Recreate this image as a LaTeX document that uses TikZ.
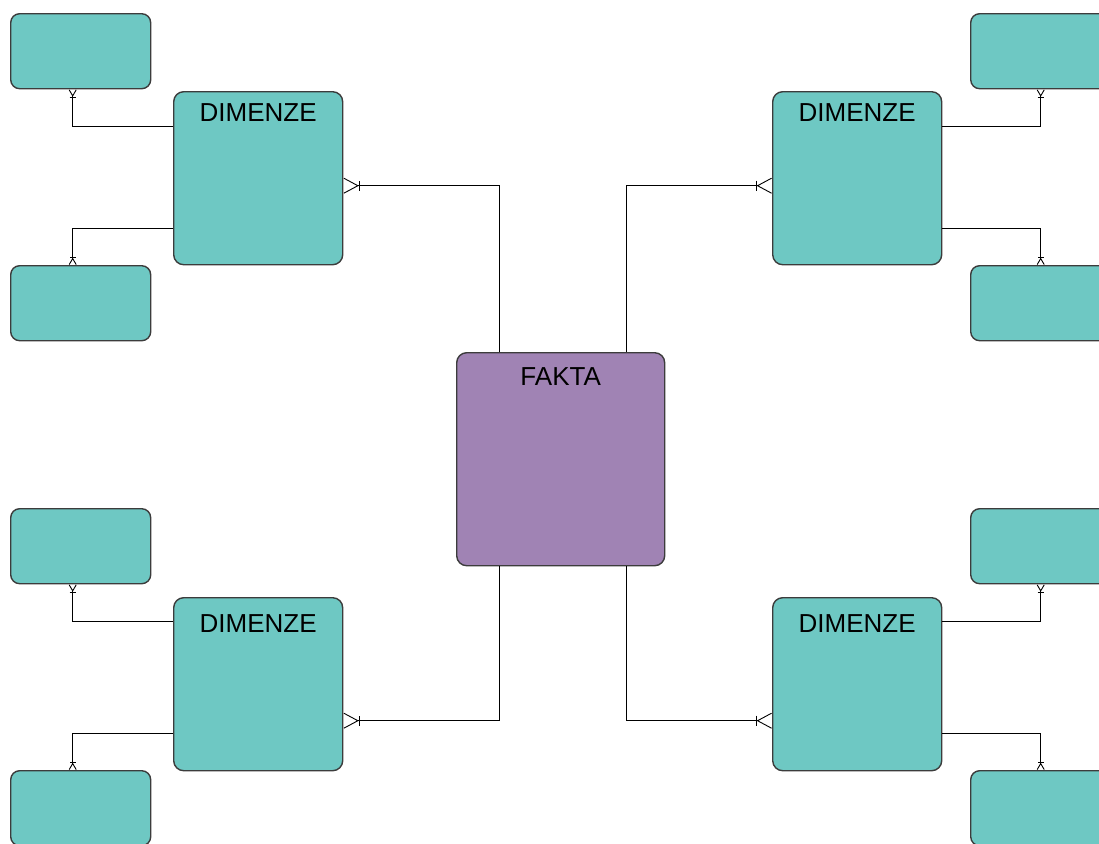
\documentclass[tikz,border=0pt]{standalone}
\usepackage{fontspec}
\setmainfont{Liberation Sans}
\usetikzlibrary{positioning,arrows.meta}

\definecolor{dimfill}{RGB}{110,200,195}
\definecolor{faktfill}{RGB}{160,131,180}
\definecolor{edge}{RGB}{60,60,60}

\begin{document}
\begin{tikzpicture}[
  x=0.5pt, y=-0.5pt,
  dim/.style={draw=edge, fill=dimfill, line width=0.7pt, rounded corners=5pt,
    anchor=north west, minimum width=84.5pt, minimum height=86.5pt, inner sep=0pt},
  attr/.style={draw=edge, fill=dimfill, line width=0.7pt, rounded corners=4.5pt,
    anchor=north west, minimum width=70pt, minimum height=37.5pt, inner sep=0pt},
  fakt/.style={draw=edge, fill=faktfill, line width=0.7pt, rounded corners=5pt,
    anchor=north west, minimum width=104pt, minimum height=106.5pt, inner sep=0pt},
  title/.style={anchor=north, inner sep=0pt, font=\fontsize{13}{15}\selectfont},
  crow/.style={line width=0.45pt,
    -{Bar[width=5pt,sep=0pt]Straight Barb[reversed,length=7pt,width=7.5pt,sep=0pt]}},
  crowsmall/.style={line width=0.45pt,
    -{Bar[width=3pt,sep=0pt]Straight Barb[reversed,length=3pt,width=3.5pt,sep=0pt]}}
]
\useasboundingbox (0,0) rectangle (1099,843);
\clip (0,0) rectangle (1099,843);

% fact table
\node[fakt] (fakta) at (456,352) {};
\node[title] (faktat) at ([yshift=-7.5pt]fakta.north) {FAKTA};

% dimensions
\node[dim] (dimtl) at (173,91) {};
\node[dim] (dimtr) at (772,91) {};
\node[dim] (dimbl) at (173,597) {};
\node[dim] (dimbr) at (772,597) {};
\node[title] (dimtlt) at ([yshift=-6pt]dimtl.north) {DIMENZE};
\node[title] (dimtrt) at ([yshift=-6pt]dimtr.north) {DIMENZE};
\node[title] (dimblt) at ([yshift=-8.5pt]dimbl.north) {DIMENZE};
\node[title] (dimbrt) at ([yshift=-8.5pt]dimbr.north) {DIMENZE};

% small tables
\node[attr] (tl1) at (10,13) {};
\node[attr] (tl2) at (10,265) {};
\node[attr] (bl1) at (10,508) {};
\node[attr] (bl2) at (10,770) {};
\node[attr] (tr1) at (970,13) {};
\node[attr] (tr2) at (970,265) {};
\node[attr] (br1) at (970,508) {};
\node[attr] (br2) at (970,770) {};

% fact to dimensions
\draw[crow] ([xshift=-30.5pt]fakta.north) |- ([yshift=-3.75pt]dimtl.east);
\draw[crow] ([xshift=33pt]fakta.north) |- ([yshift=-3.75pt]dimtr.west);
\draw[crow] ([xshift=-30.5pt]fakta.south) |- ([yshift=-18.25pt]dimbl.east);
\draw[crow] ([xshift=33pt]fakta.south) |- ([yshift=-18.25pt]dimbr.west);

% dimensions to small tables
\draw[crowsmall] ([yshift=25.75pt]dimtl.west) -| ([xshift=-4pt]tl1.south);
\draw[crowsmall] ([yshift=-25.25pt]dimtl.west) -| ([xshift=-4pt]tl2.north);
\draw[crowsmall] ([yshift=31.25pt]dimbl.west) -| ([xshift=-4pt]bl1.south);
\draw[crowsmall] ([yshift=-24.75pt]dimbl.west) -| ([xshift=-4pt]bl2.north);
\draw[crowsmall] ([yshift=25.75pt]dimtr.east) -| (tr1.south);
\draw[crowsmall] ([yshift=-25.25pt]dimtr.east) -| (tr2.north);
\draw[crowsmall] ([yshift=31.25pt]dimbr.east) -| (br1.south);
\draw[crowsmall] ([yshift=-24.75pt]dimbr.east) -| (br2.north);
\end{tikzpicture}
\end{document}
